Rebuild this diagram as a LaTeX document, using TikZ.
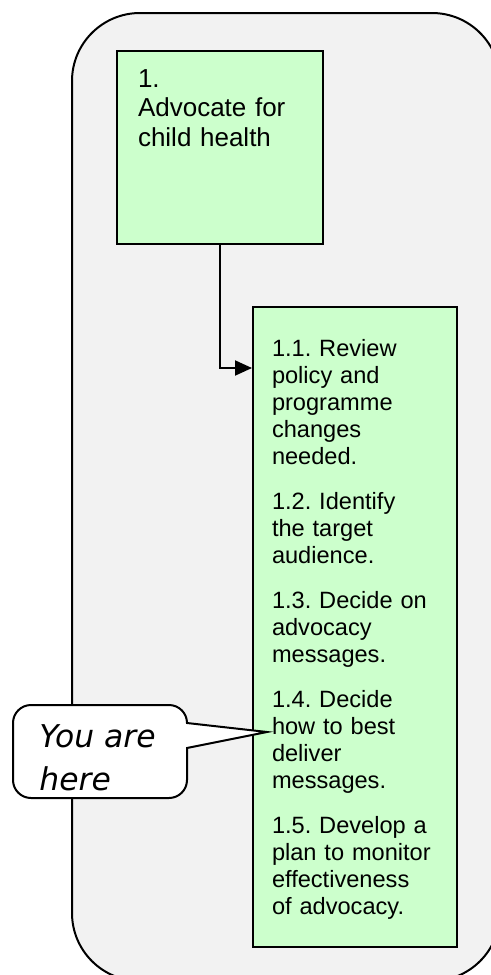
\documentclass[tikz,border=0pt]{standalone}
\usepackage{fontspec}
\setmainfont{Liberation Sans}
\newfontfamily\bubblefont{DejaVu Sans}
\usetikzlibrary{arrows.meta}
\frenchspacing

\definecolor{panelgrey}{HTML}{F2F2F2}
\definecolor{stepgreen}{HTML}{CCFFCC}

\tikzset{
  panel/.style={draw=black, line width=1pt, fill=panelgrey, rounded corners=34pt},
  greenbox/.style={draw=black, line width=1pt, fill=stepgreen, anchor=north west,
    inner ysep=0pt, align=left},
  link/.style={draw=black, line width=1pt, -{Triangle[length=8.5pt,width=7.5pt]}},
  bubble/.style={draw=black, line width=1pt, fill=white, line join=miter},
}

\begin{document}
\begin{tikzpicture}[x=0.5pt, y=0.5pt]
  \useasboundingbox (0,0) rectangle (491,-975);

  % outer rounded panel (runs past the right and bottom edges)
  \begin{scope}
    \clip (0,0) rectangle (491,-975);
    \path[panel] (72,-13) rectangle (500,-981);
  \end{scope}

  % top-level activity
  \node[greenbox, inner xsep=10.5pt, text width=82pt, text height=18pt, text depth=78.5pt,
        font=\fontsize{13pt}{14.9pt}\selectfont] (b1) at (116,-50)
    {1.\\Advocate for\\child health};

  % sub-activities
  \node[greenbox, inner xsep=9.5pt, text width=83pt, text height=24.5pt, text depth=295.5pt,
        font=\fontsize{11.8pt}{13.5pt}\selectfont] (b2) at (252,-306)
    {1.1. Review\\policy and\\programme\\changes\\needed.\\[9pt]
     1.2. Identify\\the target\\audience.\\[9pt]
     1.3. Decide on\\advocacy\\messages.\\[9pt]
     1.4. Decide\\how to best\\deliver\\messages.\\[9pt]
     1.5. Develop a\\plan to monitor\\effectiveness\\of advocacy.};

  \draw[link] (b1.south) |- ([yshift=-31pt]b2.north west);

  % speech bubble pointing at step 1.4
  \coordinate (tip) at (267,-732);
  \draw[bubble] (187,-748) -- (tip) -- (187,-723)
    arc[start angle=0, end angle=90, radius=9pt] -- (31,-705)
    arc[start angle=90, end angle=180, radius=9pt] -- (13,-780)
    arc[start angle=180, end angle=270, radius=9pt] -- (169,-798)
    arc[start angle=270, end angle=360, radius=9pt] -- cycle;
  \node[anchor=base west, inner sep=0pt, align=left,
        font=\bubblefont\itshape\fontsize{15.7pt}{21.5pt}\selectfont] (here) at (39,-790)
    {You are\\here};
\end{tikzpicture}
\end{document}
